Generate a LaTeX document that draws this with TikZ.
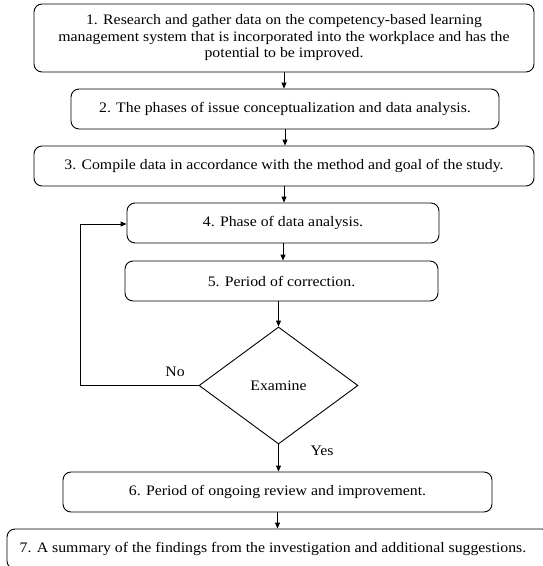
\documentclass[tikz,border=0pt]{standalone}
\usepackage{fontspec}
\setmainfont[FakeStretch=1.09]{Liberation Serif}
\usetikzlibrary{shapes.geometric,arrows.meta}
\begin{document}
\begin{tikzpicture}[x=1pt,y=-1pt,
  txt/.style={font=\fontsize{14.5}{16.5}\selectfont},
  box/.style={draw, rounded corners=8pt, line width=0.9pt, inner sep=0pt, align=center, txt},
  arr/.style={-{Triangle[length=6pt,width=5pt]}, line width=0.9pt},
  lbl/.style={inner sep=0pt, txt}]
\useasboundingbox (0,0) rectangle (543,566);
\node[box, minimum width=500pt, minimum height=68pt] (b1) at (284,38)
  {1. Research and gather data on the competency-based learning\\management system that is incorporated into the workplace and has the\\potential to be improved.};
\node[box, minimum width=428pt, minimum height=40pt] (b2) at (285,109)
  {2. The phases of issue conceptualization and data analysis.};
\node[box, minimum width=500pt, minimum height=40pt] (b3) at (284,166)
  {3. Compile data in accordance with the method and goal of the study.};
\node[box, minimum width=312pt, minimum height=40pt] (b4) at (283,223)
  {4. Phase of data analysis.};
\node[box, minimum width=313pt, minimum height=40pt] (b5) at (281.5,281)
  {5. Period of correction.};
\node[draw, diamond, line width=0.9pt, inner sep=0pt, minimum width=159pt, minimum height=117pt, txt] (d) at (278.5,385.5) {Examine};
\node[box, minimum width=429pt, minimum height=40pt] (b6) at (277.5,492)
  {6. Period of ongoing review and improvement.};
\node[box, minimum width=543pt, minimum height=40pt] (b7) at (278.5,549) {};
\node[lbl] (t7) at (273,549) {7. A summary of the findings from the investigation and additional suggestions.};
\node[lbl] (no) at (175,372) {No};
\node[lbl] (yes) at (322,451) {Yes};
\coordinate (lp) at (80,224);
\draw[arr] (b1.south) -- (b1.south |- b2.north);
\draw[arr] (b2.south) -- (b2.south |- b3.north);
\draw[arr] (b3.south) -- (b3.south |- b4.north);
\draw[arr] (b4.south) -- (b4.south |- b5.north);
\draw[arr] (d.north |- b5.south) -- (d.north);
\draw[arr] (d.south) -- (d.south |- b6.north);
\draw[arr] (b6.south) -- (b6.south |- b7.north);
\draw[arr] (d.west) -| (lp) -- (lp -| b4.west);
\end{tikzpicture}
\end{document}
